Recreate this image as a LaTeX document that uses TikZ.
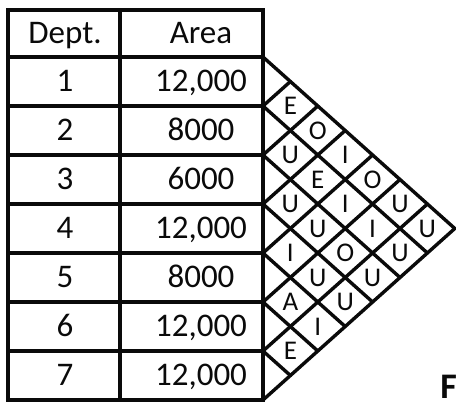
\documentclass[tikz,border=0pt]{standalone}
\usepackage{fontspec}
\setmainfont{Carlito}
\usepackage{tikz}
\usetikzlibrary{positioning}
\definecolor{relink}{rgb}{0.04,0.04,0.04}

\begin{document}
\begin{tikzpicture}[
  x=1pt, y=-1pt,
  rule/.style={draw=relink, line width=3.4pt, line cap=round},
  hd/.style={font=\fontsize{33}{36}\selectfont, text=relink, inner sep=0pt,
             text height=20.8pt, text depth=0pt},
  rel/.style={font=\fontsize{27}{30}\selectfont, text=relink, inner sep=0pt,
              text height=17.3pt, text depth=0pt},
  fig/.style={font=\bfseries\fontsize{36}{40}\selectfont, text=relink, inner sep=0pt}
]
\useasboundingbox (0,0) rectangle (456,407);

% table frame and rows
\draw[rule] (8,10) rectangle (263,400);
\draw[rule] (120,10) -- (120,400);
\foreach \k in {0,...,6}
  \draw[rule] (8,{57+49*\k}) -- (263,{57+49*\k});

% relationship chart
\foreach \k in {0,...,7} {
  \draw[rule] (263,{57+49*\k}) -- ++({(7-\k)*27.4},{(7-\k)*24.5});
  \draw[rule] (263,{57+49*\k}) -- ++({\k*27.4},{-\k*24.5});
}

\node[hd] (hdept) at (65,33.5)  {Dept.};
\node[hd] (harea) at (201,33.5) {Area};

\node[hd] (d1) at (65,81.5)  {1};
\node[hd] (d2) at (65,130.5) {2};
\node[hd] (d3) at (65,179.5) {3};
\node[hd] (d4) at (65,228.5) {4};
\node[hd] (d5) at (65,277.5) {5};
\node[hd] (d6) at (65,326.5) {6};
\node[hd] (d7) at (65,375.5) {7};

\node[hd] (a1) at (201,81.5)  {12,000};
\node[hd] (a2) at (201,130.5) {8000};
\node[hd] (a3) at (201,179.5) {6000};
\node[hd] (a4) at (201,228.5) {12,000};
\node[hd] (a5) at (201,277.5) {8000};
\node[hd] (a6) at (201,326.5) {12,000};
\node[hd] (a7) at (201,375.5) {12,000};

% closeness ratings, pair i/j
\foreach \i/\j/\r in {1/2/E, 2/3/U, 3/4/U, 4/5/I, 5/6/A, 6/7/E,
                      1/3/O, 2/4/E, 3/5/U, 4/6/U, 5/7/I,
                      1/4/I, 2/5/I, 3/6/O, 4/7/U,
                      1/5/O, 2/6/I, 3/7/U,
                      1/6/U, 2/7/U,
                      1/7/U}
  \node[rel] (r\i\j) at ({263+27.4*(\j-\i)},{32.5+24.5*(\i+\j)}) {\r};

\node[fig, anchor=base east] (figF) at (457,398) {F};
\end{tikzpicture}
\end{document}
